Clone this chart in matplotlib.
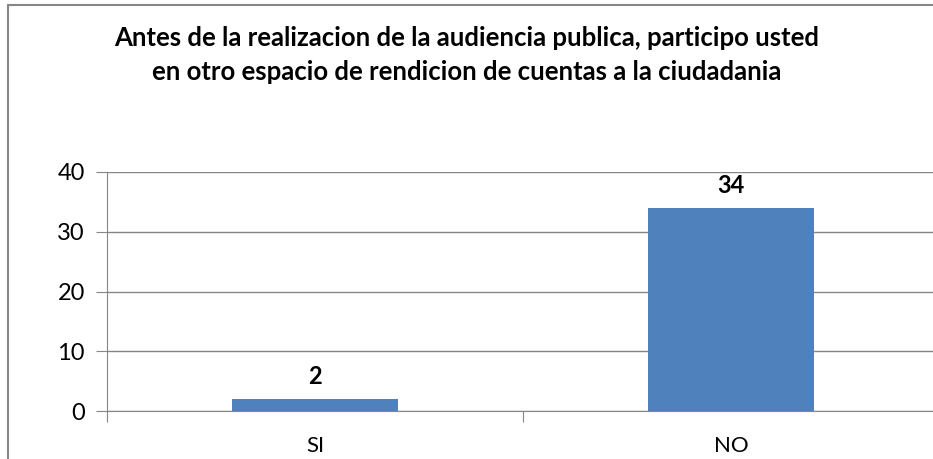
import matplotlib.pyplot as plt
from matplotlib.patches import Rectangle

categories = ["SI", "NO"]
values = [2, 34]
yticks = [0, 10, 20, 30, 40]
title = ("Antes de la realizacion de la audiencia publica, participo usted\n"
         "en otro espacio de rendicion de cuentas a la ciudadania")

plt.rcParams['font.family'] = ['Lato', 'DejaVu Sans']

W, H = 933, 459
fig = plt.figure(figsize=(W / 100, H / 100), dpi=100)

# outer chart frame (runs off the right and bottom edges)
fig.patches.append(Rectangle((8 / W, -0.1), 1.1, 1 - 5 / H + 0.1,
                             transform=fig.transFigure, fill=False,
                             edgecolor="#868686", linewidth=1.5))

# plot area in pixels: left 107, right 939, y0 at 411, y40 at 172
left, right, bottom, top = 107, 939, 411, 172
ax = fig.add_axes([left / W, 1 - bottom / H, (right - left) / W, (bottom - top) / H])

x = range(len(categories))
ax.bar(x, values, width=0.4, color="#4F81BD", zorder=3)
for i, v in zip(x, values):
    ax.text(i, v + 1.8, str(v), ha="center", va="bottom",
            fontsize=17, fontweight="bold")

ax.set_xlim(-0.5, 1.5)
ax.set_ylim(0, 40)
ax.set_yticks(yticks)
ax.set_xticks([-0.5, 0.5, 1.5])
ax.set_xticklabels([])
ax.set_xticks([0, 1], minor=True)
ax.set_xticklabels(categories, minor=True)
ax.tick_params(axis="x", which="minor", length=0, pad=18, labelsize=16)
ax.tick_params(axis="x", which="major", length=8, color="#868686")
ax.tick_params(axis="y", length=8, color="#868686", labelsize=17, pad=8)
ax.grid(axis="y", color="#868686", linewidth=1)
ax.set_axisbelow(True)
for s in ["top", "right"]:
    ax.spines[s].set_visible(False)
for s in ["left", "bottom"]:
    ax.spines[s].set_color("#868686")

fig.text(0.5, 1 - 55 / H, title, ha="center", va="center",
         fontsize=18.5, fontweight="bold", linespacing=1.55)

fig.savefig("out.png", dpi=100)
